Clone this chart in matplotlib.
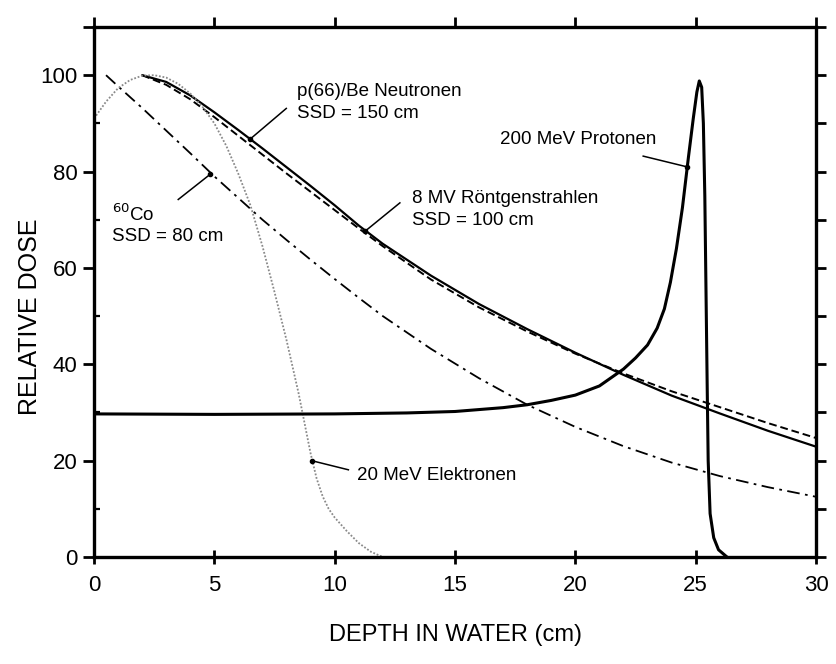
import matplotlib
matplotlib.use("Agg")
import matplotlib.pyplot as plt
from matplotlib.ticker import MultipleLocator, FixedLocator

# depth-dose curves, depth in cm, dose in % of maximum
neutron_depth = [2.0, 3.0, 4.0, 5.0, 6.0, 7.0, 8.0, 9.0, 10.0, 11.0, 12.0, 14.0,
                 16.0, 18.0, 20.0, 22.0, 24.0, 26.0, 28.0, 30.0]
neutron_dose = [100.0, 98.6, 95.8, 92.3, 88.6, 84.8, 80.9, 77.0, 73.0, 68.8, 65.0, 58.4,
                52.5, 47.3, 42.4, 37.8, 33.5, 29.8, 26.2, 22.9]

xray_depth = [2.0, 3.0, 4.0, 5.0, 6.0, 7.0, 8.0, 9.0, 10.0, 11.0, 12.0, 14.0,
              16.0, 18.0, 20.0, 22.0, 24.0, 26.0, 28.0, 30.0]
xray_dose = [100.0, 98.0, 95.0, 91.3, 87.4, 83.5, 79.6, 75.8, 72.0, 68.2, 64.5, 57.6,
             51.8, 46.8, 42.2, 38.1, 34.4, 31.1, 27.8, 24.7]

co_depth = [0.5, 1.0, 2.0, 3.0, 4.0, 5.0, 6.0, 7.0, 8.0, 9.0, 10.0, 11.0, 12.0,
            14.0, 16.0, 18.0, 20.0, 22.0, 24.0, 26.0, 28.0, 30.0]
co_dose = [100.0, 97.7, 93.2, 88.5, 83.8, 79.0, 74.5, 70.0, 65.8, 61.7, 57.7, 53.8, 50.0,
           43.2, 37.1, 31.6, 27.0, 23.0, 19.6, 16.8, 14.5, 12.5]

electron_depth = [0.0, 0.5, 1.0, 1.5, 2.0, 2.5, 3.0, 3.5, 4.0, 4.5, 5.0, 5.5, 6.0, 6.5,
                  7.0, 7.5, 8.0, 8.5, 9.0, 9.25, 9.5, 9.75, 10.0, 10.25, 10.5, 11.0,
                  11.5, 12.0]
electron_dose = [91.0, 94.5, 97.3, 99.0, 99.9, 100.0, 99.5, 98.2, 96.2, 93.5, 90.0, 85.3,
                 79.5, 73.0, 64.5, 55.0, 45.0, 34.0, 21.5, 16.3, 12.6, 10.0, 8.2, 6.8,
                 5.4, 2.9, 1.1, 0.0]

proton_depth = [0.0, 5.0, 10.0, 13.0, 15.0, 17.0, 18.0, 19.0, 20.0, 21.0, 22.0, 22.5,
                23.0, 23.4, 23.7, 23.95, 24.2, 24.45, 24.7, 24.9, 25.05, 25.15, 25.25,
                25.32, 25.38, 25.43, 25.48, 25.52, 25.6, 25.75, 25.95, 26.3]
proton_dose = [29.7, 29.6, 29.7, 29.9, 30.2, 31.0, 31.6, 32.5, 33.6, 35.5, 39.0, 41.3,
               44.0, 47.5, 51.5, 57.0, 64.0, 72.5, 83.0, 91.0, 96.5, 98.8, 97.5,
               90.0, 75.0, 55.0, 35.0, 20.0, 9.0, 4.0, 1.5, 0.0]

x_ticks = [0, 5, 10, 15, 20, 25, 30]
y_ticks = [0, 20, 40, 60, 80, 100]

TEXT_FONT = ["Liberation Sans", "DejaVu Sans"]
AXIS_FONT = ["Liberation Sans", "DejaVu Sans"]

fig = plt.figure(figsize=(8.36, 6.64), dpi=100)
ax = fig.add_axes([94 / 836, 1 - 557 / 664, 722 / 836, 530 / 664])

ax.plot(neutron_depth, neutron_dose, color="black", lw=1.6, solid_capstyle="round")
ax.plot(xray_depth, xray_dose, color="black", lw=1.4, linestyle=(0, (4, 2)))
ax.plot(co_depth, co_dose, color="black", lw=1.3, linestyle=(0, (7, 3, 1.5, 3)))
ax.plot(electron_depth, electron_dose, color="#8a8a8a", lw=1.3, linestyle=(0, (1, 1)))
ax.plot(proton_depth, proton_dose, color="black", lw=2.2, solid_joinstyle="round")

ax.set_xlim(0, 30)
ax.set_ylim(0, 110)

# leader lines from the labels to the curves
leaders = [
    ((7.99, 93.1), (6.48, 86.7)),
    ((12.71, 73.5), (11.26, 67.6)),
    ((22.82, 83.2), (24.62, 81.0)),
    ((3.5, 74.2), (4.82, 79.4)),
    ((10.57, 18.1), (9.04, 20.0)),
]
for (x0, y0), (x1, y1) in leaders:
    ax.plot([x0, x1], [y0, y1], color="black", lw=1.1)
    ax.plot([x1], [y1], "o", color="black", ms=3)

ts = 13.5
ax.text(8.43, 96.7, "p(66)/Be Neutronen", fontsize=ts, family=TEXT_FONT, va="center")
ax.text(8.43, 92.1, "SSD = 150 cm", fontsize=ts, family=TEXT_FONT, va="center")
ax.text(13.2, 74.4, "8 MV Röntgenstrahlen", fontsize=ts, family=TEXT_FONT, va="center")
ax.text(13.2, 69.9, "SSD = 100 cm", fontsize=ts, family=TEXT_FONT, va="center")
ax.text(16.87, 86.7, "200 MeV Protonen", fontsize=ts, family=TEXT_FONT, va="center")
ax.text(0.75, 71.1, r"$^{60}$Co", fontsize=ts, family=TEXT_FONT, va="center")
ax.text(0.75, 66.5, "SSD = 80 cm", fontsize=ts, family=TEXT_FONT, va="center")
ax.text(10.91, 17.0, "20 MeV Elektronen", fontsize=ts, family=TEXT_FONT, va="center")

for side in ax.spines.values():
    side.set_linewidth(2.4)

ax.xaxis.set_major_locator(FixedLocator(x_ticks))
ax.set_xticklabels([str(t) for t in x_ticks])
ax.yaxis.set_major_locator(FixedLocator(y_ticks + [110]))
ax.set_yticklabels([str(t) for t in y_ticks] + [""])
ax.yaxis.set_minor_locator(FixedLocator([10, 30, 50, 70, 90]))
ax.tick_params(axis="x", direction="inout", length=10, width=2, pad=8,
               labelsize=16, top=False)
ax.tick_params(axis="y", which="major", direction="out", length=8, width=2,
               pad=4, labelsize=16, right=False)
ax.tick_params(axis="y", which="minor", direction="in", length=4, width=1.6,
               right=False)
for lab in ax.get_xticklabels() + ax.get_yticklabels():
    lab.set_family(AXIS_FONT)

# outward ticks on the right and top frame
ax_r = ax.twinx()
ax_r.set_ylim(0, 110)
ax_r.yaxis.set_major_locator(MultipleLocator(10))
ax_r.tick_params(axis="y", direction="out", length=7, width=2, labelright=False)
ax_t = ax.twiny()
ax_t.set_xlim(0, 30)
ax_t.xaxis.set_major_locator(MultipleLocator(5))
ax_t.tick_params(axis="x", direction="out", length=7, width=2, labeltop=False)
for a in (ax_r, ax_t):
    for side in a.spines.values():
        side.set_visible(False)

fig.text(30 / 836, 1 - 317 / 664, "RELATIVE DOSE", rotation=90, ha="center",
         va="center", fontsize=18, family=AXIS_FONT)
fig.text(455 / 836, 1 - 635 / 664, "DEPTH IN WATER (cm)", ha="center",
         va="center", fontsize=17, family=AXIS_FONT)

fig.savefig("out.png", dpi=100)
